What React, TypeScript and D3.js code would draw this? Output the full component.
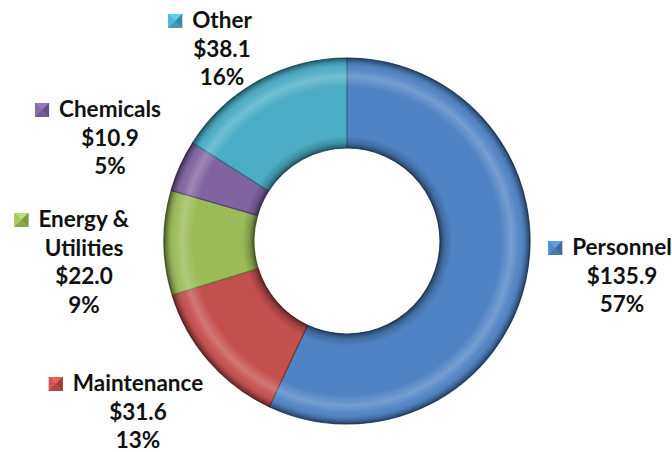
import React from "react";
import * as d3 from "d3";

const categories = ["Personnel", "Maintenance", "Energy & Utilities", "Chemicals", "Other"];
const values = [135.9, 31.6, 22.0, 10.9, 38.1];
const colors = ["#4F83C4", "#C4504D", "#9BBB59", "#8064A2", "#4BACC6"];

// label layout: name lines, anchor = centre x of name text, baseline of first line
const nameLines = [["Personnel"], ["Maintenance"], ["Energy &", "Utilities"], ["Chemicals"], ["Other"]];
const labelPos = [
  { cx: 622, y: 255 },
  { cx: 138, y: 391 },
  { cx: 84, y: 227 },
  { cx: 110, y: 117 },
  { cx: 222, y: 28 },
];

const W = 672;
const H = 452;
const CX = 347;
const CY = 241;
const R_OUT = 183;
const R_IN = 93;
const FONT = "Lato, 'Open Sans', sans-serif";
const FS = 22.5;
const LH = 28.5;

function shade(c: string, k: number) {
  const col = d3.color(c)!;
  return k > 0 ? col.brighter(k).formatHex() : col.darker(-k).formatHex();
}

export default function App() {
  const total = d3.sum(values);
  const pie = d3.pie<number>().sort(null).value((d) => d).startAngle(0).endAngle(2 * Math.PI);
  const arcs = pie(values);
  const arc = d3.arc<d3.PieArcDatum<number>>().innerRadius(R_IN).outerRadius(R_OUT);
  const f1 = d3.format(".1f");

  const ctx = typeof document !== "undefined" ? document.createElement("canvas").getContext("2d") : null;
  const measure = (t: string) => {
    if (!ctx) return t.length * FS * 0.55;
    ctx.font = `bold ${FS}px ${FONT}`;
    return ctx.measureText(t).width;
  };

  return (
    <div style={{ position: "fixed", left: 0, top: 0, width: W, height: H, background: "#fff" }}>
      <svg width={W} height={H} viewBox={`0 0 ${W} ${H}`}>
        <defs>
          <radialGradient id="bevel" gradientUnits="userSpaceOnUse" cx={0} cy={0} r={R_OUT}>
            <stop offset={R_IN / R_OUT} stopColor="#000" stopOpacity={0.5} />
            <stop offset={(R_IN + 5) / R_OUT} stopColor="#000" stopOpacity={0.18} />
            <stop offset={(R_IN + 12) / R_OUT} stopColor="#000" stopOpacity={0} />
            <stop offset={0.84} stopColor="#fff" stopOpacity={0} />
            <stop offset={0.9} stopColor="#fff" stopOpacity={0.22} />
            <stop offset={0.94} stopColor="#fff" stopOpacity={0.04} />
            <stop offset={0.975} stopColor="#000" stopOpacity={0.15} />
            <stop offset={1} stopColor="#000" stopOpacity={0.5} />
          </radialGradient>
        </defs>
        <g transform={`translate(${CX},${CY})`}>
          {arcs.map((a, i) => (
            <path key={"s" + i} d={arc(a)!} fill={colors[i]} stroke={shade(colors[i], -1.2)} strokeWidth={1.2} />
          ))}
          {arcs.map((a, i) => (
            <path key={"o" + i} d={arc(a)!} fill="url(#bevel)" />
          ))}
        </g>
        {categories.map((c, i) => {
          const p = labelPos[i];
          const lines = nameLines[i];
          const wFirst = measure(lines[0]);
          const textLeft = p.cx - wFirst / 2;
          const sq = 14;
          const sx = textLeft - 10 - sq;
          const sy = p.y - sq;
          const base = colors[i];
          const extra = ["$" + f1(values[i]), Math.round((values[i] / total) * 100) + "%"];
          const all = [...lines, ...extra];
          return (
            <g key={"l" + i}>
              <rect x={sx} y={sy} width={sq} height={sq} fill={base} />
              <polygon points={`${sx},${sy} ${sx + sq},${sy} ${sx + sq / 2},${sy + sq / 2}`} fill={shade(base, 0.5)} />
              <polygon points={`${sx},${sy} ${sx},${sy + sq} ${sx + sq / 2},${sy + sq / 2}`} fill={shade(base, 0.2)} />
              <polygon points={`${sx + sq},${sy} ${sx + sq},${sy + sq} ${sx + sq / 2},${sy + sq / 2}`} fill={shade(base, -0.6)} />
              <polygon points={`${sx},${sy + sq} ${sx + sq},${sy + sq} ${sx + sq / 2},${sy + sq / 2}`} fill={shade(base, -0.3)} />
              {all.map((t, j) => (
                <text
                  key={j}
                  x={j === 0 ? textLeft : p.cx}
                  y={p.y + j * LH}
                  textAnchor={j === 0 ? "start" : "middle"}
                  fontFamily={FONT}
                  fontWeight="bold"
                  fontSize={FS}
                  fill="#111"
                >
                  {t}
                </text>
              ))}
            </g>
          );
        })}
      </svg>
    </div>
  );
}
